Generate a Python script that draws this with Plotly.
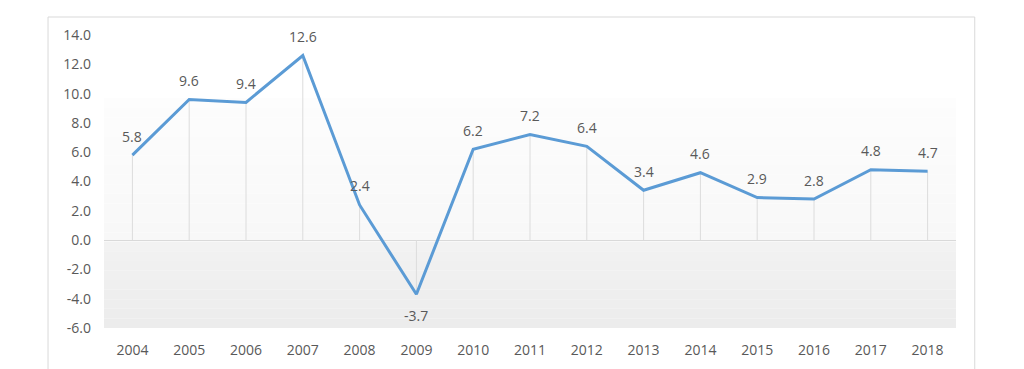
import plotly.graph_objects as go

years = ["2004", "2005", "2006", "2007", "2008", "2009", "2010", "2011",
         "2012", "2013", "2014", "2015", "2016", "2017", "2018"]
values = [5.8, 9.6, 9.4, 12.6, 2.4, -3.7, 6.2, 7.2, 6.4, 3.4, 4.6, 2.9, 2.8, 4.8, 4.7]
y_ticks = [14, 12, 10, 8, 6, 4, 2, 0, -2, -4, -6]

fig = go.Figure()

# background gradient bands (plot area, from ~9.7 down to -6)
band_top, band_bottom = 9.7, -6.0
n = 24
for i in range(n):
    y0 = band_top - (band_top - band_bottom) * i / n
    y1 = band_top - (band_top - band_bottom) * (i + 1) / n
    mid = (y0 + y1) / 2
    if mid >= 0:
        t = (band_top - mid) / band_top
        g = round(253 - 5 * t)
    else:
        t = -mid / 6.0
        g = round(242 - 6 * t)
    fig.add_shape(type="rect", xref="x domain", yref="y", x0=0, x1=1, y0=y1, y1=y0,
                  fillcolor=f"rgb({g},{g},{g})", line_width=0, layer="below")

# drop lines
dx, dy = [], []
for yr, v in zip(years, values):
    dx += [yr, yr, None]
    dy += [v, 0, None]
fig.add_trace(go.Scatter(x=dx, y=dy, mode="lines", line=dict(color="#dcdcdc", width=1),
                         hoverinfo="skip", showlegend=False))

fig.add_trace(go.Scatter(x=years, y=values, mode="lines",
                         line=dict(color="#5b9bd5", width=3), showlegend=False))

for i, (yr, v) in enumerate(zip(years, values)):
    fig.add_annotation(xref="x", yref="y", x=i, y=v, text=f"{v:.1f}", showarrow=False,
                       yshift=19 if v >= 0 else -21,
                       font=dict(family="Open Sans", size=14, color="#595959"))

# outer chart border
fig.add_shape(type="rect", xref="paper", yref="paper", x0=-0.0657, x1=1.022, y0=-0.2, y1=1.0614,
              line=dict(color="#d9d9d9", width=1), fillcolor="rgba(0,0,0,0)", layer="below")

fig.update_layout(
    width=1024, height=369,
    margin=dict(l=96, r=76, t=27, b=49),
    paper_bgcolor="white", plot_bgcolor="rgba(0,0,0,0)",
    font=dict(family="Open Sans", size=14, color="#595959"),
    xaxis=dict(type="category", range=[-0.5, 14.5], showgrid=False, showline=False,
               ticks="", ticklabelstandoff=12, tickfont=dict(size=14, color="#595959"),
               zeroline=False),
    yaxis=dict(range=[-6, 14], tickvals=y_ticks, ticktext=[f"{t:.1f}" for t in y_ticks],
               showgrid=False, zeroline=True, zerolinecolor="#d9d9d9", zerolinewidth=1,
               showline=False, ticks="", ticklabelstandoff=12,
               tickfont=dict(size=14, color="#595959")),
)

fig.write_html("out.html")
